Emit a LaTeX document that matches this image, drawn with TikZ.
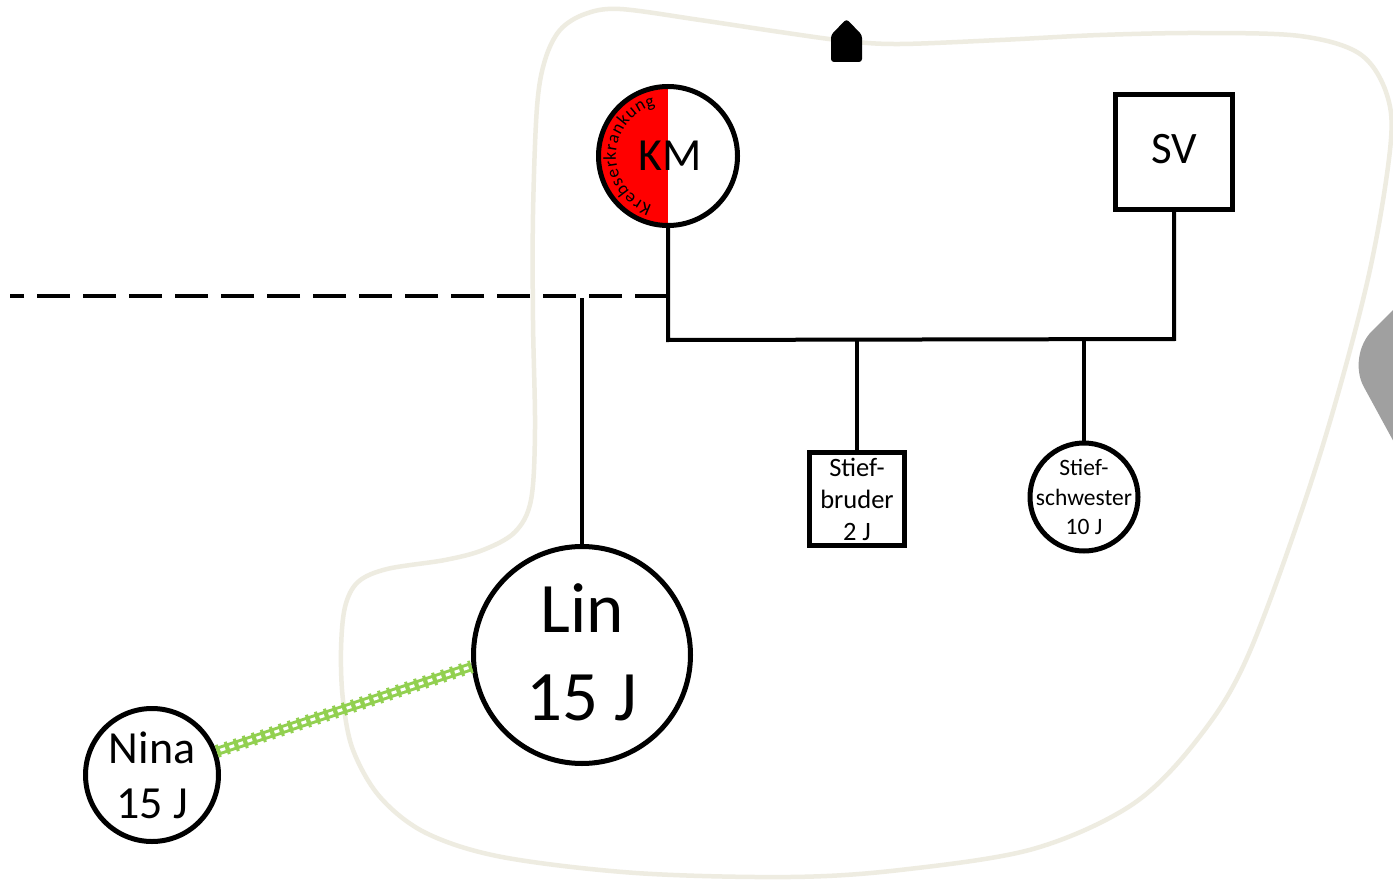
\documentclass[tikz,border=0pt]{standalone}
\usepackage{fontspec}
\setmainfont{Carlito}
\usetikzlibrary{decorations.text}
\definecolor{beige}{HTML}{EEECE1}
\definecolor{grn}{HTML}{92D050}
\definecolor{gshape}{HTML}{A0A0A0}
\begin{document}
\begin{tikzpicture}[x=1pt,y=-1pt,
  person/.style={draw=black, line width=5pt, fill=white, inner sep=0pt, align=center},
  fem/.style={person, circle},
  male/.style={person, rectangle},
  rel/.style={line width=4pt, black},
  household/.style={draw=beige, line width=4.5pt},
  tieA/.style={line width=13pt, grn, dash pattern=on 3pt off 6.5pt},
  tieB/.style={line width=9pt, grn},
  tieC/.style={line width=3pt, white, dash pattern=on 5pt off 4.5pt, dash phase=5.75pt},
  lbl/.style={align=center, inner sep=0pt}
]
\useasboundingbox (0,0) rectangle (1393,883);
\fill[white] (0,0) rectangle (1393,883);

% household boundary
\draw[household] plot[smooth cycle, tension=0.55] coordinates {
 (620,9) (700,20) (780,32) (846,41) (900,44) (1000,40) (1100,35) (1200,33) (1300,36)
 (1360,54) (1387,95) (1390,150) (1367,283) (1317,464) (1250,651) (1200,736)
 (1133,804) (1033,849) (900,870) (790,877) (636,873) (502,857) (426,833)
 (380,797) (353,750) (343,700) (341,650) (345,607) (358,582) (387,569)
 (445,560) (483,550) (515,532) (531,500) (535,429) (533,321) (533,214)
 (537,107) (545,60) (560,30) (585,14)};

% grey shape at right edge
\fill[gshape, rounded corners=35pt] (1347,356) -- (1432,271) -- (1432,512) -- cycle;

% house icon
\fill[black, rounded corners=3pt] (831,62) -- (831,35) -- (846.5,19) -- (862,35) -- (862,62) -- cycle;

% persons
\node[fem, minimum size=139pt,
  path picture={\fill[red] (path picture bounding box.south west) rectangle (path picture bounding box.north);},
  label={[lbl, font=\fontsize{46}{50}\selectfont, xshift=2pt]center:KM}] (KM) at (668,156) {};
\node[male, minimum width=117pt, minimum height=115pt,
  label={[lbl, font=\fontsize{45}{50}\selectfont, yshift=3pt]center:SV}] (SV) at (1174,152) {};
\node[male, minimum width=95pt, minimum height=93pt,
  label={[lbl, font=\fontsize{26.5}{32}\selectfont]center:{Stief-\\bruder\\2 J}}] (SB) at (857,499) {};
\node[fem, minimum size=108pt,
  label={[lbl, font=\fontsize{23.5}{29.5}\selectfont]center:{Stief-\\schwester\\10 J}}] (SS) at (1084,497) {};
\node[fem, minimum size=217pt,
  label={[lbl, font=\fontsize{71}{88}\selectfont, yshift=3pt]center:{Lin\\15 J}}] (Lin) at (582,655) {};
\node[fem, minimum size=133pt,
  label={[lbl, font=\fontsize{46}{55}\selectfont]center:{Nina\\15 J}}] (Nina) at (152,775) {};

% curved illness text
\path[decorate, decoration={text along path,
  text={|\fontsize{18}{18}\selectfont|Krebserkrankung},
  text align={fit to path}}]
  ([shift={(252:52pt)}]KM.center) arc[start angle=252, end angle=104, radius=52pt];

% connectors
\coordinate (hl) at (668,340);
\coordinate (hr) at (1174,339);
\coordinate (dl) at (10,296);
\coordinate (lt) at (582,298);
\draw[rel] (KM.south) -- (hl) -- (hr) -- (SV.south);
\draw[rel] (hl -| SB.north) -- (SB.north);
\draw[rel] (hl -| SS.north) -- (SS.north);
\draw[rel, dash pattern=on 32.6pt off 13.4pt] (KM.south |- dl) -- (dl);
\draw[rel] (lt) -- (Lin.north);

% friendship line
\draw[tieA] (Nina.20) -- (Lin.186);
\draw[tieB] (Nina.20) -- (Lin.186);
\draw[tieC] (Nina.20) -- (Lin.186);
\end{tikzpicture}
\end{document}
